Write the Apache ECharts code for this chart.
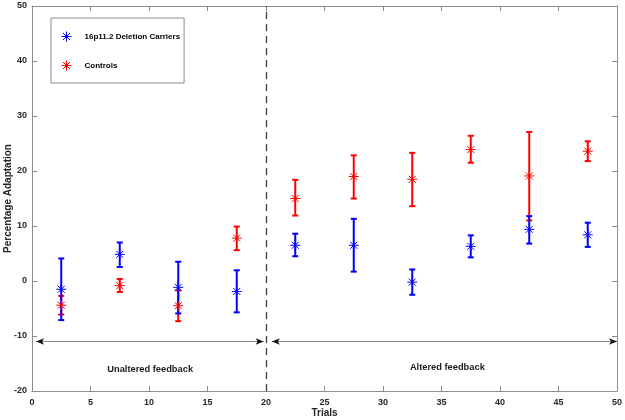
<!DOCTYPE html>
<html><head><meta charset="utf-8">
<script src="https://cdn.jsdelivr.net/npm/echarts@6/dist/echarts.min.js"></script>
<style>html,body{margin:0;padding:0;background:#fff}#c{width:625px;height:420px}</style>
</head><body><div id="c"></div>
<script>
// Data
const trials = [2.5, 7.5, 12.5, 17.5, 22.5, 27.5, 32.5, 37.5, 42.5, 47.5];
const carriersMean = [-1.5, 4.85, -1.15, -1.9, 6.5, 6.5, -0.2, 6.3, 9.4, 8.4];
const carriersLow  = [-7.1, 2.55, -5.9, -5.7, 4.5, 1.7, -2.5, 4.3, 6.8, 6.2];
const carriersHigh = [4.1, 7.0, 3.5, 1.95, 8.6, 11.3, 2.1, 8.3, 11.8, 10.6];
const controlsMean = [-4.4, -0.85, -4.5, 7.8, 15.0, 19.0, 18.5, 23.9, 19.1, 23.6];
const controlsLow  = [-6.1, -2.0, -7.3, 5.6, 11.9, 15.0, 13.6, 21.5, 11.0, 21.8];
const controlsHigh = [-2.7, 0.36, -1.7, 9.9, 18.4, 22.85, 23.3, 26.4, 27.1, 25.4];
const xTicks = [0, 5, 10, 15, 20, 25, 30, 35, 40, 45, 50];
const yTicks = [-20, -10, 0, 10, 20, 30, 40, 50];
const phaseSplit = 20;
const arrowY = -11;
const phases = [
  {name: 'Unaltered feedback', from: 0.35, to: 19.8, labelX: 10.1, labelY: -16},
  {name: 'Altered feedback', from: 20.5, to: 50, labelX: 35.5, labelY: -15.7}
];

const BLUE = '#0000ff', RED = '#ff0000';
const FONT = 'Liberation Sans';
const star = 'path://M0,5 L10,5 M5,0 L5,10 M1.5,1.5 L8.5,8.5 M1.5,8.5 L8.5,1.5';

function errData(low, high) { return trials.map((x, i) => [x, low[i], high[i]]); }
function errRender(color) {
  return function (params, api) {
    const x = api.value(0);
    const lo = api.coord([x, api.value(1)]);
    const hi = api.coord([x, api.value(2)]);
    const cap = 3;
    const st = {stroke: color, lineWidth: 2};
    return {type: 'group', children: [
      {type: 'line', shape: {x1: lo[0], y1: lo[1], x2: hi[0], y2: hi[1]}, style: st},
      {type: 'line', shape: {x1: lo[0] - cap, y1: lo[1], x2: lo[0] + cap, y2: lo[1]}, style: st},
      {type: 'line', shape: {x1: hi[0] - cap, y1: hi[1], x2: hi[0] + cap, y2: hi[1]}, style: st}
    ]};
  };
}

const chart = echarts.init(document.getElementById('c'));
const axisCommon = {
  axisLine: {onZero: false, lineStyle: {color: '#8c8c8c', width: 1}},
  axisTick: {inside: true, length: 5, lineStyle: {color: '#8c8c8c'}},
  splitLine: {show: false},
  nameMoveOverlap: false
};
const labelStyle = {color: '#262626', fontFamily: FONT, fontWeight: 'bold', fontSize: 9};
const nameStyle = {fontFamily: FONT, fontWeight: 'bold', fontSize: 10, color: '#262626'};
const arrowHeads = [];
phases.forEach(p => {
  arrowHeads.push({coord: [p.from, arrowY], symbolRotate: 90});
  arrowHeads.push({coord: [p.to, arrowY], symbolRotate: -90});
});
chart.setOption({
  animation: false,
  backgroundColor: '#fff',
  grid: {left: 32, right: 8, top: 6, bottom: 29, containLabel: false, outerBoundsMode: 'none'},
  legend: {
    orient: 'vertical', left: 51, top: 18,
    borderColor: '#8c8c8c', borderWidth: 1, borderRadius: 0,
    padding: [13, 4, 12, 10], itemGap: 18, itemWidth: 10, itemHeight: 10,
    data: [
      {name: '16p11.2 Deletion Carriers', icon: star, itemStyle: {color: 'rgba(0,0,0,0)', borderColor: BLUE, borderWidth: 1}},
      {name: 'Controls', icon: star, itemStyle: {color: 'rgba(0,0,0,0)', borderColor: RED, borderWidth: 1}}
    ],
    textStyle: {fontFamily: FONT, fontWeight: 'bold', fontSize: 8, color: '#000', padding: [0, 0, 0, 8]}
  },
  xAxis: [
    Object.assign({}, axisCommon, {type: 'value', min: xTicks[0], max: xTicks[xTicks.length - 1], interval: 5,
      axisLabel: Object.assign({margin: 7}, labelStyle),
      name: 'Trials', nameLocation: 'middle', nameGap: 17, nameTextStyle: nameStyle}),
    Object.assign({}, axisCommon, {type: 'value', position: 'top', min: 0, max: 50, interval: 5, axisLabel: {show: false}})
  ],
  yAxis: [
    Object.assign({}, axisCommon, {type: 'value', min: yTicks[0], max: yTicks[yTicks.length - 1], interval: 10,
      axisLabel: Object.assign({margin: 5}, labelStyle),
      name: 'Percentage Adaptation', nameLocation: 'middle', nameGap: 19, nameTextStyle: nameStyle}),
    Object.assign({}, axisCommon, {type: 'value', position: 'right', min: -20, max: 50, interval: 10, axisLabel: {show: false}})
  ],
  series: [
    {type: 'custom', name: 'Controls', renderItem: errRender(RED), data: errData(controlsLow, controlsHigh),
     encode: {x: 0, y: [1, 2]}, z: 2, silent: true, itemStyle: {color: RED}},
    {type: 'custom', name: '16p11.2 Deletion Carriers', renderItem: errRender(BLUE), data: errData(carriersLow, carriersHigh),
     encode: {x: 0, y: [1, 2]}, z: 3, silent: true, itemStyle: {color: BLUE}},
    {type: 'scatter', name: 'Controls', symbol: star, symbolSize: 10, z: 4,
     itemStyle: {color: 'rgba(0,0,0,0)', borderColor: RED, borderWidth: 1, opacity: 1},
     data: trials.map((x, i) => [x, controlsMean[i]])},
    {type: 'scatter', name: '16p11.2 Deletion Carriers', symbol: star, symbolSize: 10, z: 5,
     itemStyle: {color: 'rgba(0,0,0,0)', borderColor: BLUE, borderWidth: 1, opacity: 1},
     data: trials.map((x, i) => [x, carriersMean[i]])},
    {type: 'line', name: 'annot', data: [], z: 1, silent: true,
     markLine: {
       silent: true, symbol: ['none', 'none'], label: {show: false},
       lineStyle: {color: '#404040', type: [7, 5], width: 1.3},
       data: [{xAxis: phaseSplit}]
     }},
    {type: 'line', name: 'arrows', data: [], z: 1, silent: true,
     markLine: {
       silent: true, symbol: ['none', 'none'], label: {show: false},
       lineStyle: {color: '#8a8a8a', type: 'solid', width: 1},
       data: phases.map(p => [{coord: [p.from, arrowY]}, {coord: [p.to, arrowY]}])
     },
     markPoint: {
       silent: true, symbol: 'circle', symbolSize: 0,
       label: {show: true, position: 'inside', fontFamily: FONT, fontWeight: 'bold', fontSize: 9.3, color: '#1a1a1a',
         formatter: p => p.name},
       data: phases.map(p => ({name: p.name, coord: [p.labelX, p.labelY]}))
     }},
    {type: 'line', name: 'heads', data: [], z: 2, silent: true,
     markPoint: {
       silent: true, symbol: 'arrow', symbolSize: [5, 8],
       itemStyle: {color: '#111'}, label: {show: false},
       data: arrowHeads
     }}
  ]
});
</script></body></html>
